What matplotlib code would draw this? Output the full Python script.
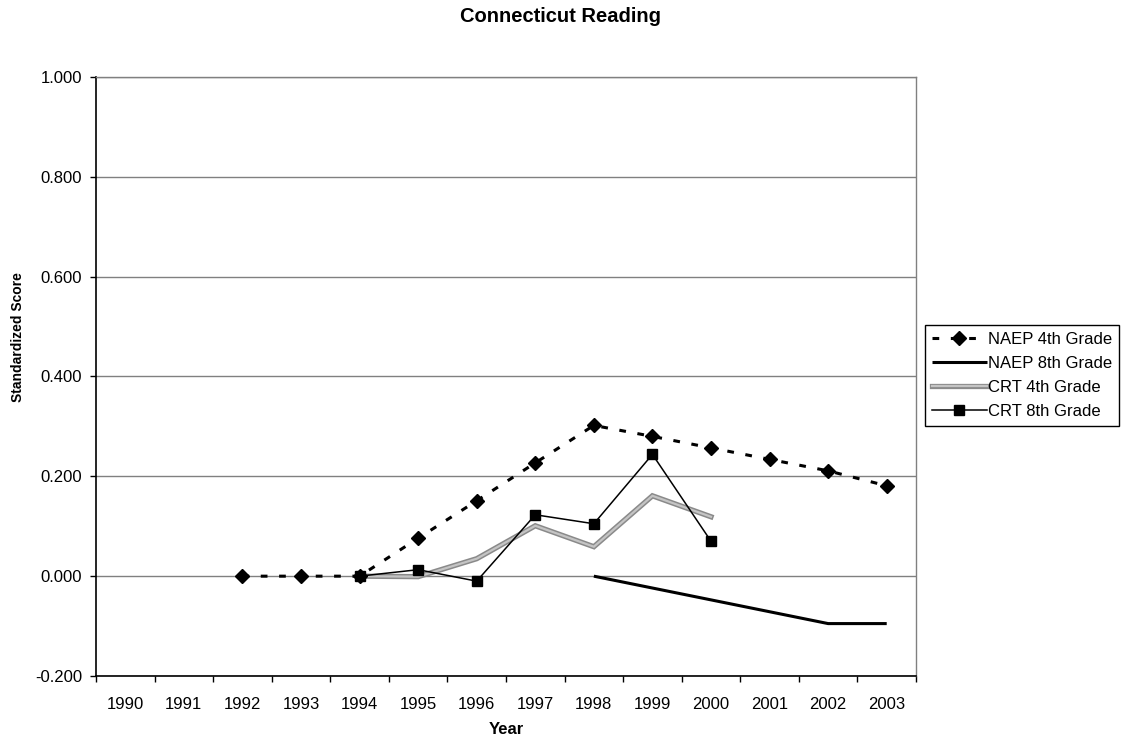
"""
Connecticut reading scores, NAEP vs CRT, standardized by year.
"""
import numpy as np
import matplotlib
matplotlib.use("Agg")
import matplotlib.pyplot as plt

years = list(range(1990, 2004))
nan = np.nan

# standardized scores, one value per year (nan = no data)
naep_4th = [nan, nan, 0.000, 0.000, 0.000, 0.076, 0.151, 0.227, 0.302,
            0.280, 0.257, 0.234, 0.211, 0.181]
naep_8th = [nan, nan, nan, nan, nan, nan, nan, nan, 0.000,
            nan, nan, nan, -0.095, -0.095]
crt_4th = [nan, nan, nan, nan, 0.000, -0.001, 0.035, 0.101, 0.059,
           0.161, 0.119, nan, nan, nan]
crt_8th = [nan, nan, nan, nan, 0.000, 0.013, -0.010, 0.123, 0.105,
           0.244, 0.070, nan, nan, nan]

y_ticks = [-0.2, 0.0, 0.2, 0.4, 0.6, 0.8, 1.0]

plt.rcParams['font.family'] = ['Liberation Sans', 'DejaVu Sans']
plt.rcParams['axes.unicode_minus'] = False


def valid(values):
    """positions and values where the series has data"""
    arr = np.array(values, dtype=float)
    idx = np.arange(len(arr))
    mask = ~np.isnan(arr)
    return idx[mask], arr[mask]


fig = plt.figure(figsize=(11.22, 7.42), dpi=100)
ax = fig.add_axes([96 / 1122, 1 - 676 / 742, 820 / 1122, 599 / 742])

# gridlines
for v in y_ticks:
    ax.axhline(v, color='#808080', lw=1.0, zorder=1)

x, y = valid(naep_4th)
ax.plot(x, y, color='black', lw=2.2, dashes=(2.2, 3.8), marker='D',
        ms=6.8, mfc='black', mec='black', zorder=5, label='NAEP 4th Grade')

x, y = valid(naep_8th)
ax.plot(x, y, color='black', lw=2.2, solid_capstyle='butt', zorder=4,
        label='NAEP 8th Grade')

# textured grey line: dark edge with lighter core
x, y = valid(crt_4th)
ax.plot(x, y, color='#8a8a8a', lw=3.8, solid_joinstyle='miter', zorder=3)
ax.plot(x, y, color='#c4c4c4', lw=1.6, solid_joinstyle='miter', zorder=3)
crt4_handle = [
    plt.Line2D([], [], color='#8a8a8a', lw=3.8),
    plt.Line2D([], [], color='#c4c4c4', lw=1.6),
]

x, y = valid(crt_8th)
ax.plot(x, y, color='black', lw=1.1, marker='s', ms=6.8, mfc='black',
        mec='black', zorder=6, label='CRT 8th Grade')

ax.set_xlim(-0.5, len(years) - 0.5)
ax.set_ylim(-0.2, 1.0)

# category axis: ticks between years, labels centered on them
ax.set_xticks(np.arange(len(years) + 1) - 0.5)
ax.set_xticklabels([])
ax.set_xticks(np.arange(len(years)), minor=True)
ax.set_xticklabels([str(yr) for yr in years], minor=True, fontsize=12)
ax.tick_params(axis='x', which='major', length=4, width=1, direction='out')
ax.tick_params(axis='x', which='minor', length=0, pad=15)

ax.set_yticks(y_ticks)
ax.set_yticklabels(['%.3f' % v for v in y_ticks], fontsize=12)
ax.tick_params(axis='y', length=4, width=1, direction='out', pad=6)

for side in ['top', 'right']:
    ax.spines[side].set_color('#808080')
    ax.spines[side].set_linewidth(1.0)
for side in ['left', 'bottom']:
    ax.spines[side].set_color('black')
    ax.spines[side].set_linewidth(1.2)

fig.text(560 / 1122, 1 - 17 / 742, 'Connecticut Reading', ha='center',
         va='center', fontsize=14.5, fontweight='bold')
fig.text(506 / 1122, 1 - 730 / 742, 'Year', ha='center', va='center',
         fontsize=12, fontweight='bold')
fig.text(18 / 1122, 1 - 337 / 742, 'Standardized Score', ha='center',
         va='center', rotation=90, fontsize=10, fontweight='bold')

handles, labels = ax.get_legend_handles_labels()
handles.insert(2, tuple(crt4_handle))
labels.insert(2, 'CRT 4th Grade')
leg = fig.legend(handles, labels, loc='upper left',
                 bbox_to_anchor=(925 / 1122, 1 - 325 / 742),
                 bbox_transform=fig.transFigure, borderaxespad=0,
                 fontsize=12, frameon=True, fancybox=False,
                 edgecolor='black', framealpha=1, handlelength=3.3,
                 handletextpad=0.1, labelspacing=0.55, borderpad=0.4)
leg.get_frame().set_linewidth(1.0)

fig.savefig('out.png', dpi=100)
